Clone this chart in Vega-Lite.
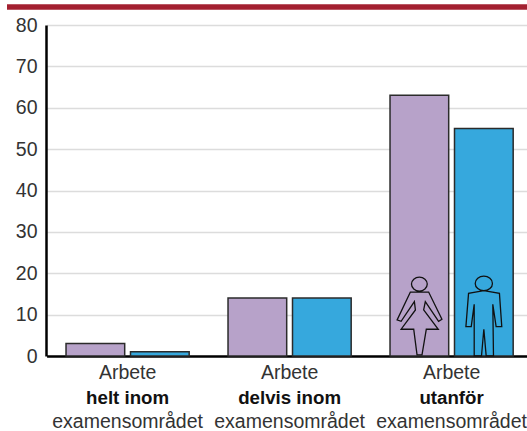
{
"$schema":"https://vega.github.io/schema/vega-lite/v6.json",
"width":481,"height":331,
"autosize":"none",
"padding":{"left":46,"top":25,"right":0,"bottom":75},
"background":"white",
"config":{"view":{"stroke":null},"font":"Liberation Sans"},
"datasets":{
"bars":[
{"group":"helt inom","series":"Kvinnor","value":3},
{"group":"helt inom","series":"Män","value":1},
{"group":"delvis inom","series":"Kvinnor","value":14},
{"group":"delvis inom","series":"Män","value":14},
{"group":"utanför","series":"Kvinnor","value":63},
{"group":"utanför","series":"Män","value":55}],
"icons":[
{"group":"utanför","series":"Kvinnor","pos":9.6},
{"group":"utanför","series":"Män","pos":9.6}],
"labels":[
{"group":"helt inom","first":"Arbete","last":"examensområdet"},
{"group":"delvis inom","first":"Arbete","last":"examensområdet"},
{"group":"utanför","first":"Arbete","last":"examensområdet"}],
"band":[{"from":-39,"to":481,"level":84.35}]
},
"layer":[
{"layer":[
{"data":{"name":"bars"},
"mark":{"type":"bar","stroke":"#2b2b2b","strokeWidth":1.5},
"encoding":{
"x":{"field":"group","type":"nominal","scale":{"domain":["helt inom","delvis inom","utanför"],"range":[0.6,486.6],"paddingInner":0.2,"paddingOuter":0.1},
"axis":{"title":null,"labels":false,"ticks":false,"grid":false,"domain":true,"domainColor":"#000","domainWidth":2.5}},
"xOffset":{"field":"series","type":"nominal","scale":{"domain":["Kvinnor","Män"],"paddingInner":0.09,"paddingOuter":0.05}},
"y":{"field":"value","type":"quantitative","scale":{"domain":[0,80],"nice":false},
"axis":{"title":null,"values":[0,10,20,30,40,50,60,70,80],"ticks":false,"grid":true,"gridColor":"#dcdcdc","gridWidth":1.5,"domain":true,"domainColor":"#000","domainWidth":2.5,"labelFontSize":19.5,"labelColor":"#333333","labelPadding":9,"labelFont":"Liberation Sans"}},
"fill":{"field":"series","type":"nominal","scale":{"domain":["Kvinnor","Män"],"range":["#b7a2c9","#36a8dd"]},"legend":null}}},
{"data":{"name":"icons"},
"mark":{"type":"point","filled":false,"stroke":"#111","strokeWidth":1.3,"size":6241,"opacity":1},
"encoding":{
"x":{"field":"group","type":"nominal"},
"xOffset":{"field":"series","type":"nominal"},
"y":{"field":"pos","type":"quantitative"},
"shape":{"field":"series","type":"nominal","legend":null,"scale":{"domain":["Kvinnor","Män"],"range":[
"M-0.2,-0.815A0.2,0.177 0 1,1 0.2,-0.815A0.2,0.177 0 1,1 -0.2,-0.815ZM-0.227,-0.613L-0.563,0.092L-0.462,0.126L-0.126,-0.37L-0.1,-0.16L-0.462,0.328L-0.143,0.328L-0.059,0.975L0.067,0.975L0.176,0.328L0.479,0.328L0.109,-0.16L0.151,-0.37L0.487,0.126L0.571,0.076L0.235,-0.613Z",
"M-0.218,-0.832A0.218,0.185 0 1,1 0.218,-0.832A0.218,0.185 0 1,1 -0.218,-0.832ZM-0.387,-0.58L-0.454,0.261L-0.319,0.261L-0.244,-0.303L-0.244,1L-0.059,1L0,0.328L0.059,1L0.244,1L0.227,-0.303L0.311,0.261L0.454,0.261L0.395,-0.58L0,-0.647Z"]}}}},
{"data":{"name":"labels"},
"mark":{"type":"text","dy":17,"fontSize":19.5,"color":"#333333","baseline":"middle","align":"center"},
"encoding":{"x":{"field":"group","type":"nominal"},"y":{"datum":0},"text":{"field":"first"}}},
{"data":{"name":"labels"},
"mark":{"type":"text","dy":42,"fontSize":18.7,"fontWeight":"bold","color":"#111","baseline":"middle","align":"center"},
"encoding":{"x":{"field":"group","type":"nominal"},"y":{"datum":0},"text":{"field":"group"}}},
{"data":{"name":"labels"},
"mark":{"type":"text","dy":66,"fontSize":19.5,"color":"#333333","baseline":"middle","align":"center"},
"encoding":{"x":{"field":"group","type":"nominal"},"y":{"datum":0},"text":{"field":"last"}}}
]},
{"data":{"name":"band"},
"mark":{"type":"rule","color":"#a32030","strokeWidth":5.5,"clip":false},
"encoding":{
"x":{"field":"from","type":"quantitative","scale":{"domain":[0,481],"nice":false,"zero":false},"axis":null},
"x2":{"field":"to"},
"y":{"field":"level","type":"quantitative"}}}
],
"resolve":{"scale":{"x":"independent"},"axis":{"x":"independent"}}
}
